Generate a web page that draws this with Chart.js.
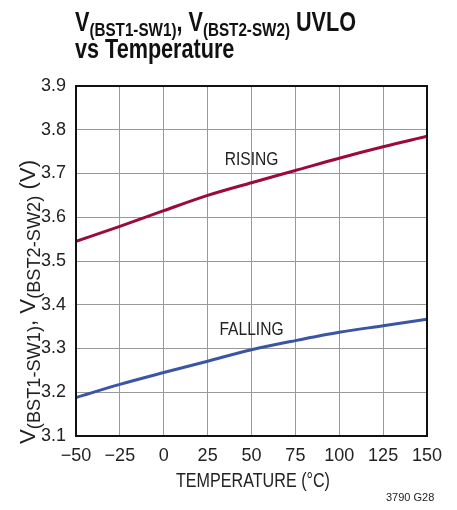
<!DOCTYPE html>
<html>
<head>
<meta charset="utf-8">
<title>UVLO vs Temperature</title>
<script src="https://cdn.jsdelivr.net/npm/chart.js"></script>
<style>
  body { margin: 0; background: #fff; }
  #wrap { position: relative; width: 457px; height: 510px; font-family: 'Liberation Sans', Arial, sans-serif; color: #111; }
  .txt { position: absolute; white-space: nowrap; transform-origin: 0 0; }
  #title { left: 75px; top: 9px; font-weight: bold; font-size: 27px; line-height: 27px; }
  #title sub { font-size: 19px; vertical-align: -5px; line-height: 0; }
  #ylabel { font-size: 22px; color: #222; }
  #ylabel sub { font-size: 18px; vertical-align: -5px; line-height: 0; }
  #xlabel { font-size: 20px; color: #222; }
  #note { left: 386px; top: 491px; font-size: 11px; color: #222; }
</style>
</head>
<body>
<div id="wrap">
  <canvas id="myChart" width="457" height="510"></canvas>
  <div id="title" class="txt"><span id="t1">V<sub>(BST1-SW1)</sub>, V<sub>(BST2-SW2)</sub> UVLO</span><br><span id="t2">vs Temperature</span></div>
  <div id="ylabel" class="txt">V<sub>(BST1-SW1)</sub>, V<sub>(BST2-SW2)</sub> (V)</div>
  <div id="xlabel" class="txt">TEMPERATURE (°C)</div>
  <div id="note" class="txt">3790 G28</div>
</div>
<script>
  const temps = [-50, -25, 0, 25, 50, 75, 100, 125, 150];
  const rising = [3.545, 3.579, 3.615, 3.650, 3.679, 3.707, 3.735, 3.761, 3.785];
  const falling = [3.188, 3.218, 3.245, 3.271, 3.297, 3.318, 3.337, 3.352, 3.367];
  const curveLabels = [
    { text: 'RISING', x: 50, y: 3.731 },
    { text: 'FALLING', x: 50, y: 3.342 }
  ];

  const fontFamily = "'Liberation Sans', Arial, sans-serif";
  Chart.defaults.font.family = fontFamily;
  Chart.defaults.color = '#222';

  // the original uses a condensed face, so squeeze the html text to its widths
  const t1 = document.getElementById('t1');
  const title = document.getElementById('title');
  title.style.transform = 'scaleX(' + (281 / t1.offsetWidth) + ')';

  const yl = document.getElementById('ylabel');
  const ySx = 284 / yl.offsetWidth;
  yl.style.left = '15px';
  yl.style.top = '444px';
  yl.style.transform = 'rotate(-90deg) scaleX(' + ySx + ')';

  const xl = document.getElementById('xlabel');
  const xSx = 154 / xl.offsetWidth;
  xl.style.left = (253 - 77) + 'px';
  xl.style.top = '469px';
  xl.style.transform = 'scaleX(' + xSx + ')';

  // frame round the plot plus the curve labels
  const framePlugin = {
    id: 'frame',
    afterDatasetsDraw(chart) {
      const { ctx, chartArea: a, scales } = chart;
      ctx.save();
      ctx.strokeStyle = '#111';
      ctx.lineWidth = 2;
      ctx.strokeRect(a.left, a.top, a.right - a.left, a.bottom - a.top);
      ctx.fillStyle = '#222';
      ctx.font = '19px ' + fontFamily;
      ctx.textAlign = 'center';
      ctx.textBaseline = 'middle';
      curveLabels.forEach(l => {
        ctx.save();
        ctx.translate(scales.x.getPixelForValue(l.x), scales.y.getPixelForValue(l.y));
        ctx.scale(0.82, 1);
        ctx.fillText(l.text, 0, 0);
        ctx.restore();
      });
      ctx.restore();
    }
  };

  const ctx = document.getElementById('myChart').getContext('2d');
  const myChart = new Chart(ctx, {
    type: 'line',
    data: {
      labels: temps,
      datasets: [{
        label: 'Rising',
        data: temps.map((t, i) => ({ x: t, y: rising[i] })),
        borderColor: '#9c0a3c',
        borderWidth: 3,
        pointRadius: 0,
        cubicInterpolationMode: 'monotone',
        fill: false
      }, {
        label: 'Falling',
        data: temps.map((t, i) => ({ x: t, y: falling[i] })),
        borderColor: '#3a55a4',
        borderWidth: 3,
        pointRadius: 0,
        cubicInterpolationMode: 'monotone',
        fill: false
      }]
    },
    options: {
      responsive: false,
      animation: false,
      layout: { padding: { top: 86, right: 30, left: 0, bottom: 0 } },
      plugins: { legend: { display: false }, tooltip: { enabled: false } },
      scales: {
        x: {
          type: 'linear',
          min: -50,
          max: 150,
          afterFit: s => { s.height = 74; },
          grid: { color: '#999', lineWidth: 1, drawTicks: false },
          border: { display: false },
          ticks: {
            stepSize: 25,
            padding: 9,
            font: { size: 18 },
            maxRotation: 0,
            callback: v => v < 0 ? '\u2212' + Math.abs(v) : String(v)
          }
        },
        y: {
          min: 3.1,
          max: 3.9,
          afterFit: s => { s.width = 76; },
          grid: { color: '#999', lineWidth: 1, drawTicks: false },
          border: { display: false },
          ticks: {
            stepSize: 0.1,
            padding: 10,
            font: { size: 18 },
            callback: v => v.toFixed(1)
          }
        }
      }
    },
    plugins: [framePlugin]
  });
</script>
</body>
</html>
